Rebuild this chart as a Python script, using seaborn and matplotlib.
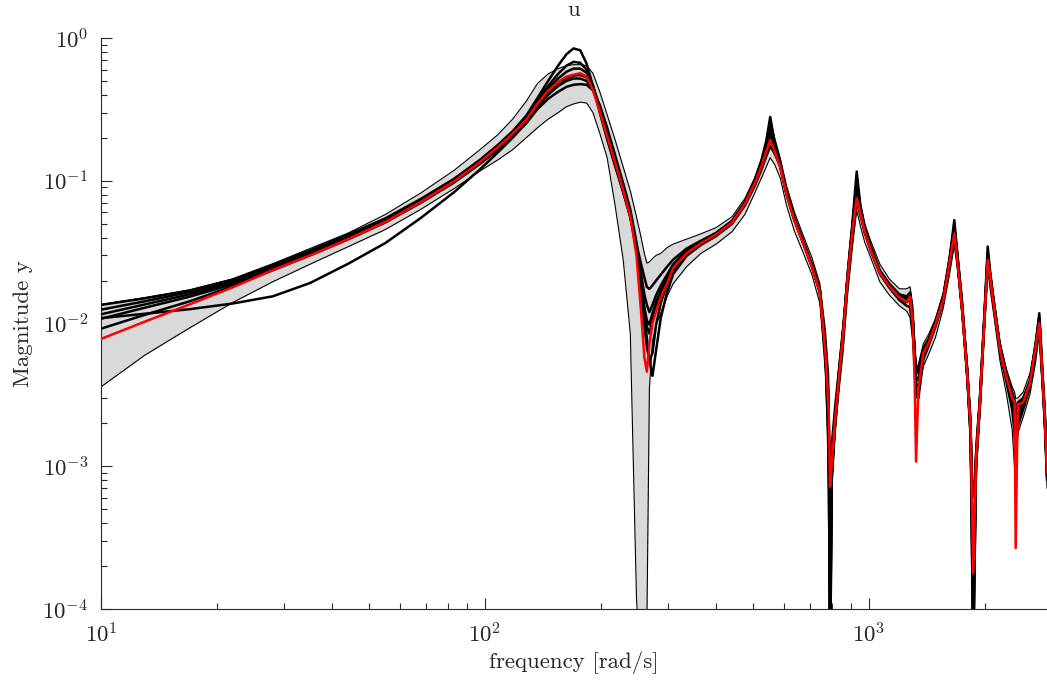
import pandas as pd
import seaborn as sns
import matplotlib.pyplot as plt

sns.set_style("ticks")
plt.rcParams['font.family'] = ['cmr10']
plt.rcParams['mathtext.fontset'] = 'cm'
plt.rcParams['axes.formatter.use_mathtext'] = True

# frequency grid [rad/s]
freq = [10, 13, 17, 22, 28, 35, 44, 55, 68, 83,
        97, 108, 118, 128, 137, 146, 155, 163, 170, 177,
        184, 191, 199, 208, 218, 229, 239, 248, 255, 260,
        264, 268, 273, 279, 287, 298, 309, 335, 365, 400,
        440, 475, 505, 525, 540, 553, 568, 587, 610, 640,
        675, 710, 745, 770, 785, 792, 800, 815, 835, 857,
        880, 905, 929, 950, 975, 1010, 1068, 1130, 1200, 1254,
        1279, 1300, 1315, 1326, 1345, 1385, 1430, 1490, 1561, 1620,
        1668, 1700, 1750, 1800, 1840, 1869, 1900, 1946, 2000, 2038,
        2070, 2120, 2193, 2280, 2360, 2395, 2410, 2440, 2520, 2626,
        2720, 2777, 2820, 2870, 2908]

# nominal model (red)
nominal = [0.0078, 0.0103, 0.0136, 0.0179, 0.0237, 0.030, 0.039, 0.0515, 0.071, 0.099,
           0.135, 0.172, 0.213, 0.267, 0.346, 0.427, 0.492, 0.536, 0.553, 0.566,
           0.536, 0.4325, 0.305, 0.205, 0.135, 0.0862, 0.0561, 0.030, 0.012, 0.0058,
           0.0046, 0.0072, 0.010, 0.0122, 0.0153, 0.019, 0.0245, 0.031, 0.0365, 0.042,
           0.051, 0.069, 0.097, 0.127, 0.16, 0.193, 0.16, 0.1255, 0.08, 0.0523,
           0.036, 0.025, 0.0165, 0.0063, 0.0025, 0.00072, 0.00105, 0.002, 0.0042, 0.00855,
           0.021, 0.0435, 0.0754, 0.0587, 0.0438, 0.0329, 0.0225, 0.0182, 0.0152, 0.01423,
           0.0154, 0.01, 0.004, 0.00108, 0.0035, 0.0062, 0.0073, 0.0099, 0.01463, 0.0263,
           0.0429, 0.0273, 0.0121, 0.0046, 0.0018, 0.000178, 0.0011, 0.00292, 0.0112, 0.0279,
           0.0207, 0.0126, 0.00653, 0.0042, 0.003, 0.0028, 0.000267, 0.0027, 0.0028, 0.00382,
           0.007, 0.01005, 0.005, 0.0022, 0.0009]

# uncertainty bounds (grey band)
upper = [0.0136, 0.0152, 0.0172, 0.0205, 0.0262, 0.0335, 0.043, 0.058, 0.082, 0.118,
         0.165, 0.21, 0.27, 0.36, 0.48, 0.56, 0.61, 0.64, 0.65, 0.65,
         0.64, 0.566, 0.42, 0.29, 0.195, 0.125, 0.085, 0.056, 0.04, 0.031,
         0.0265, 0.027, 0.0285, 0.03, 0.031, 0.034, 0.036, 0.039, 0.0425, 0.047,
         0.056, 0.075, 0.106, 0.14, 0.19, 0.27, 0.2, 0.145, 0.092, 0.06,
         0.041, 0.029, 0.019, 0.009, 0.0045, 0.0012, 0.0016, 0.0028, 0.0052, 0.0105,
         0.024, 0.052, 0.116, 0.07, 0.05, 0.038, 0.026, 0.0205, 0.0175, 0.0175,
         0.0181, 0.0135, 0.0075, 0.0045, 0.0052, 0.0072, 0.0084, 0.0108, 0.0165, 0.03,
         0.053, 0.033, 0.0155, 0.0056, 0.0024, 0.0006, 0.0015, 0.0034, 0.013, 0.0346,
         0.023, 0.0145, 0.0075, 0.0048, 0.0036, 0.0033, 0.003, 0.003, 0.0033, 0.0045,
         0.0075, 0.0118, 0.0058, 0.0025, 0.0011]
lower = [0.0036, 0.006, 0.0093, 0.014, 0.0196, 0.026, 0.0345, 0.0455, 0.063, 0.088,
         0.117, 0.14, 0.165, 0.2, 0.235, 0.27, 0.3, 0.33, 0.345, 0.355,
         0.35, 0.3, 0.215, 0.145, 0.068, 0.028, 0.0085, 0.00012, 0.00003, 0.00003,
         0.00008, 0.0035, 0.0075, 0.0098, 0.0118, 0.0155, 0.019, 0.025, 0.031, 0.036,
         0.044, 0.058, 0.083, 0.105, 0.125, 0.145, 0.13, 0.105, 0.067, 0.044,
         0.031, 0.022, 0.0138, 0.0045, 0.0008, 0.00005, 0.0007, 0.0016, 0.0033, 0.0065,
         0.016, 0.034, 0.062, 0.048, 0.037, 0.029, 0.0195, 0.0158, 0.0133, 0.0122,
         0.011, 0.0075, 0.0045, 0.003, 0.0034, 0.005, 0.0061, 0.008, 0.0128, 0.022,
         0.035, 0.024, 0.0112, 0.0038, 0.0013, 0.00005, 0.0009, 0.0024, 0.0098, 0.024,
         0.017, 0.0108, 0.0055, 0.0032, 0.0018, 0.00095, 0.0011, 0.0017, 0.0022, 0.0032,
         0.0055, 0.0085, 0.004, 0.0017, 0.0007]

# sampled models (black)
model_a = [0.0135, 0.015, 0.017, 0.0203, 0.0258, 0.0325, 0.042, 0.0545, 0.0745, 0.103,
           0.14, 0.178, 0.222, 0.285, 0.38, 0.5, 0.64, 0.77, 0.845, 0.82,
           0.66, 0.46, 0.3, 0.195, 0.128, 0.083, 0.056, 0.036, 0.026, 0.021,
           0.018, 0.0175, 0.0185, 0.02, 0.022, 0.025, 0.028, 0.0335, 0.038, 0.0432,
           0.0525, 0.071, 0.103, 0.14, 0.19, 0.28, 0.185, 0.135, 0.085, 0.055,
           0.0375, 0.026, 0.0172, 0.0068, 0.0018, 0.00004, 0.0009, 0.0022, 0.0046, 0.0093,
           0.0225, 0.05, 0.116, 0.066, 0.047, 0.035, 0.0235, 0.019, 0.016, 0.0155,
           0.0165, 0.0115, 0.0065, 0.0045, 0.0048, 0.0067, 0.0078, 0.0104, 0.0155, 0.028,
           0.053, 0.03, 0.013, 0.005, 0.0019, 0.00004, 0.0012, 0.0031, 0.0122, 0.0346,
           0.0225, 0.0135, 0.007, 0.0045, 0.0033, 0.0029, 0.0023, 0.0028, 0.003, 0.004,
           0.0075, 0.0118, 0.0055, 0.0024, 0.001]
model_b = [0.0125, 0.0143, 0.0166, 0.0198, 0.0252, 0.0318, 0.041, 0.0535, 0.0735, 0.102,
           0.139, 0.176, 0.219, 0.278, 0.365, 0.46, 0.56, 0.64, 0.68, 0.67,
           0.6, 0.46, 0.31, 0.2, 0.13, 0.084, 0.0555, 0.034, 0.022, 0.016,
           0.0135, 0.012, 0.0135, 0.0158, 0.0185, 0.022, 0.026, 0.0325, 0.0375, 0.0428,
           0.052, 0.0705, 0.1, 0.135, 0.18, 0.245, 0.175, 0.13, 0.082, 0.0535,
           0.0368, 0.0255, 0.0168, 0.0062, 0.0022, 0.00015, 0.001, 0.0021, 0.0044, 0.0089,
           0.0218, 0.047, 0.1, 0.063, 0.0455, 0.034, 0.0232, 0.0187, 0.0157, 0.015,
           0.016, 0.0108, 0.0058, 0.005, 0.0045, 0.0065, 0.0076, 0.0102, 0.0151, 0.0275,
           0.048, 0.029, 0.0127, 0.0048, 0.0019, 0.00009, 0.0011, 0.003, 0.0118, 0.031,
           0.0215, 0.0131, 0.0068, 0.0044, 0.0032, 0.0027, 0.002, 0.0027, 0.0029, 0.0039,
           0.0072, 0.011, 0.0052, 0.0023, 0.00095]
model_c = [0.0116, 0.0136, 0.016, 0.0193, 0.0247, 0.0312, 0.0402, 0.0528, 0.0725, 0.1,
           0.137, 0.174, 0.215, 0.272, 0.352, 0.44, 0.52, 0.58, 0.61, 0.61,
           0.57, 0.46, 0.32, 0.21, 0.136, 0.087, 0.057, 0.033, 0.019, 0.012,
           0.0095, 0.0085, 0.0105, 0.0135, 0.0165, 0.0205, 0.025, 0.0318, 0.037, 0.0424,
           0.0515, 0.0695, 0.098, 0.13, 0.168, 0.215, 0.168, 0.128, 0.081, 0.0528,
           0.0364, 0.0252, 0.0166, 0.0058, 0.0015, 0.00006, 0.0008, 0.0019, 0.0042, 0.0087,
           0.0213, 0.045, 0.09, 0.061, 0.0445, 0.0333, 0.0228, 0.0184, 0.0154, 0.0146,
           0.0156, 0.0104, 0.0062, 0.005, 0.0046, 0.0063, 0.0074, 0.01, 0.0148, 0.027,
           0.045, 0.028, 0.0124, 0.0047, 0.0017, 0.00015, 0.001, 0.0029, 0.0115, 0.029,
           0.021, 0.0128, 0.0066, 0.0042, 0.003, 0.0024, 0.0016, 0.0025, 0.0028, 0.0038,
           0.007, 0.0105, 0.005, 0.0022, 0.0009]
model_d = [0.0108, 0.0129, 0.0154, 0.0188, 0.0242, 0.0306, 0.0395, 0.052, 0.0715, 0.0995,
           0.135, 0.171, 0.211, 0.264, 0.338, 0.41, 0.47, 0.52, 0.545, 0.55,
           0.53, 0.46, 0.33, 0.22, 0.142, 0.09, 0.059, 0.034, 0.018, 0.0098,
           0.0068, 0.0055, 0.0062, 0.0098, 0.014, 0.0188, 0.0238, 0.0308, 0.0362, 0.0416,
           0.0505, 0.068, 0.095, 0.125, 0.157, 0.195, 0.16, 0.126, 0.08, 0.0525,
           0.0362, 0.0251, 0.0166, 0.0062, 0.0024, 0.0002, 0.0011, 0.002, 0.0041, 0.0085,
           0.0208, 0.043, 0.08, 0.059, 0.044, 0.0329, 0.0225, 0.0181, 0.015, 0.0141,
           0.0148, 0.0098, 0.0055, 0.0038, 0.0036, 0.006, 0.0072, 0.0098, 0.0146, 0.0265,
           0.043, 0.0272, 0.0121, 0.0046, 0.0018, 0.00006, 0.0011, 0.0028, 0.0112, 0.028,
           0.0205, 0.0125, 0.0065, 0.0041, 0.0028, 0.002, 0.0013, 0.0022, 0.0027, 0.0037,
           0.0068, 0.01, 0.0048, 0.0021, 0.00085]
model_e = [0.0092, 0.0115, 0.0143, 0.0182, 0.0236, 0.03, 0.0388, 0.051, 0.07, 0.097,
           0.131, 0.165, 0.203, 0.252, 0.318, 0.375, 0.42, 0.455, 0.47, 0.475,
           0.47, 0.43, 0.34, 0.235, 0.152, 0.096, 0.063, 0.037, 0.021, 0.012,
           0.0078, 0.0055, 0.0043, 0.0065, 0.011, 0.0165, 0.0222, 0.0298, 0.0355, 0.041,
           0.05, 0.067, 0.093, 0.12, 0.148, 0.175, 0.155, 0.127, 0.081, 0.0535,
           0.037, 0.0258, 0.0172, 0.007, 0.003, 0.00008, 0.0009, 0.0019, 0.004, 0.0082,
           0.02, 0.04, 0.072, 0.057, 0.0432, 0.0325, 0.0222, 0.0178, 0.0146, 0.0133,
           0.013, 0.009, 0.005, 0.0033, 0.003, 0.0056, 0.007, 0.0095, 0.0143, 0.026,
           0.04, 0.0268, 0.0119, 0.0045, 0.0016, 0.00005, 0.001, 0.0027, 0.0108, 0.026,
           0.02, 0.0122, 0.0063, 0.0039, 0.0025, 0.0017, 0.0011, 0.0019, 0.0025, 0.0036,
           0.0066, 0.0095, 0.0046, 0.002, 0.0008]
model_g = [0.0109, 0.0117, 0.0126, 0.0138, 0.0155, 0.0192, 0.0262, 0.0366, 0.0548, 0.083,
           0.12, 0.158, 0.2, 0.255, 0.33, 0.4, 0.46, 0.5, 0.52, 0.52,
           0.5, 0.44, 0.32, 0.212, 0.138, 0.088, 0.058, 0.035, 0.02, 0.013,
           0.0105, 0.0098, 0.0118, 0.0142, 0.017, 0.021, 0.0248, 0.0315, 0.0368, 0.0422,
           0.0512, 0.0692, 0.097, 0.128, 0.165, 0.22, 0.165, 0.127, 0.081, 0.053,
           0.0365, 0.0253, 0.0166, 0.006, 0.002, 0.00003, 0.0009, 0.002, 0.0043, 0.0087,
           0.0215, 0.046, 0.095, 0.062, 0.045, 0.0335, 0.0229, 0.0185, 0.0155, 0.0148,
           0.0158, 0.0106, 0.006, 0.0042, 0.004, 0.0064, 0.0075, 0.0101, 0.0149, 0.027,
           0.046, 0.0285, 0.0125, 0.0048, 0.0018, 0.00012, 0.0011, 0.0029, 0.0116, 0.03,
           0.0212, 0.0129, 0.0067, 0.0043, 0.0031, 0.0025, 0.0018, 0.0026, 0.0028, 0.0039,
           0.0071, 0.0108, 0.0051, 0.0022, 0.0009]

models = {'a': model_a, 'b': model_b, 'c': model_c, 'd': model_d,
          'e': model_e, 'g': model_g}
df = pd.concat([pd.DataFrame({'freq': freq, 'mag': m, 'model': k}) for k, m in models.items()])

fig = plt.figure(figsize=(10.47, 6.83), dpi=100)
ax = fig.add_axes([0.0965, 0.1083, 0.9035, 0.8361])

ax.fill_between(freq, lower, upper, color='#d9d9d9', lw=0, zorder=1)
ax.plot(freq, upper, color='k', lw=0.8, zorder=2)
ax.plot(freq, lower, color='k', lw=0.8, zorder=2)
sns.lineplot(data=df, x='freq', y='mag', units='model', estimator=None, sort=False,
             color='k', lw=1.8, ax=ax, zorder=3)
sns.lineplot(x=freq, y=nominal, color='red', lw=1.8, ax=ax, zorder=4)

ax.set(xscale='log', yscale='log')
ax.set_xlim(10, 2908)
ax.set_ylim(1e-4, 1)
sns.despine(ax=ax)
ax.tick_params(which='both', direction='in', labelsize=16.5, width=0.8)
ax.tick_params(which='major', length=8, pad=9)
ax.tick_params(which='minor', length=4.5)
ax.set_xlabel('frequency [rad/s]', fontsize=16.5, labelpad=4)
ax.set_ylabel('Magnitude y', fontsize=16.5, labelpad=7)
ax.set_title('u', fontsize=16.5, pad=16)

plt.savefig('out.png', dpi=100)
